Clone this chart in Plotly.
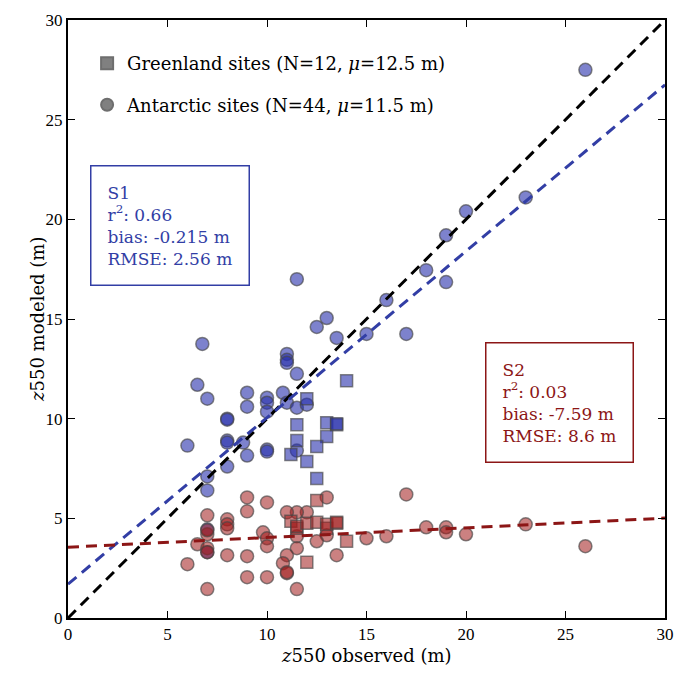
import plotly.graph_objects as go

# ---------------- data ----------------
# Antarctic sites, S1 model
ant_s1_obs = [26, 23, 20, 19, 19, 18, 16, 17, 15, 13.5, 13, 12.5, 11.5, 6.75, 11, 11, 11,
              11.5, 6.5, 7, 9, 9, 10, 10, 10, 10.8, 11, 11.5, 12, 8, 8, 8, 8, 8.8, 6,
              10, 10, 9, 8, 7, 7, 7, 7, 11.5]
ant_s1_mod = [27.5, 21.1, 20.4, 19.2, 16.85, 17.45, 15.95, 14.25, 14.25, 14.05, 15.05, 14.6,
              17.0, 13.75, 13.25, 12.95, 12.8, 12.25, 11.7, 11.0, 11.3, 10.6, 11.05, 10.8,
              10.35, 11.3, 10.8, 10.55, 10.7, 10.0, 9.95, 8.9, 8.8, 8.8, 8.65, 8.45, 8.35,
              8.15, 7.6, 7.1, 6.4, 4.45, 3.3, 8.4]
# Antarctic sites, S2 model
ant_s2_obs = [26, 23, 20, 19, 19, 18, 17, 16, 15, 13.5, 13, 13, 12.5, 12, 11.5, 11, 11.5,
              11.5, 11, 10.8, 11, 11, 11.5, 10, 9, 9, 7, 8, 8, 8, 9.8, 10, 10, 9, 8, 9,
              10, 7, 6, 6.5, 7, 7, 7, 7]
ant_s2_mod = [3.6, 4.7, 4.2, 4.55, 4.3, 4.55, 6.2, 4.1, 4.0, 3.15, 6.05, 4.15, 3.85, 5.3,
              5.3, 5.3, 4.1, 3.5, 3.15, 2.75, 2.25, 2.3, 1.45, 5.8, 6.05, 5.35, 5.15, 4.95,
              4.7, 4.5, 4.3, 4.0, 3.6, 3.1, 3.15, 2.05, 2.05, 1.45, 2.7, 3.7, 4.2, 3.5, 3.3, 4.4]
# Greenland sites
grl_obs = [14, 12, 11.5, 13, 13.5, 13.5, 13, 11.5, 12.5, 11.2, 12, 12.5]
grl_s1_mod = [11.9, 11.0, 9.7, 9.8, 9.7, 9.75, 9.1, 8.9, 8.6, 8.2, 7.85, 7.0]
grl_s2_obs = [12.5, 11.2, 11.5, 11.5, 12, 12.5, 13, 13, 13.5, 13.5, 14, 12]
grl_s2_mod = [5.9, 4.85, 4.5, 4.6, 4.75, 4.8, 4.5, 4.7, 4.75, 4.8, 3.85, 2.8]

# regression lines (intercept, slope)
s1_fit = (1.7, 0.835)
s2_fit = (3.55, 0.0487)
line_x = [0, 30]

legend_labels = ["Greenland sites (N=12, <i>μ</i>=12.5 m)",
                 "Antarctic sites (N=44, <i>μ</i>=11.5 m)"]
s1_text = "S1<br>r<sup>2</sup>: 0.66<br>bias: -0.215 m<br>RMSE: 2.56 m"
s2_text = "S2<br>r<sup>2</sup>: 0.03<br>bias: -7.59 m<br>RMSE: 8.6 m"
x_title = "<i>z</i>550 observed (m)"
y_title = "<i>z</i>550 modeled (m)"
ticks = [0, 5, 10, 15, 20, 25, 30]

# ---------------- styles ----------------
BLUE = "rgb(50,62,165)"
RED = "rgb(140,22,22)"
FILL_BLUE = "rgba(38,47,172,0.6)"
FILL_RED = "rgba(160,25,25,0.55)"
EDGE = dict(color="rgba(70,70,70,0.65)", width=1.5)
FONT = "DejaVu Serif, Liberation Serif, serif"
TICKFONT = "Liberation Serif, DejaVu Serif, serif"
DASH = "11px,7px"

fig = go.Figure()

def pts(x, y, fill, symbol, size):
    fig.add_trace(go.Scatter(x=x, y=y, mode="markers", showlegend=False, hoverinfo="skip",
                             marker=dict(color=fill, symbol=symbol, size=size, line=EDGE)))

pts(ant_s1_obs, ant_s1_mod, FILL_BLUE, "circle", 13)
pts(grl_obs, grl_s1_mod, FILL_BLUE, "square", 12)
pts(ant_s2_obs, ant_s2_mod, FILL_RED, "circle", 13)
pts(grl_s2_obs, grl_s2_mod, FILL_RED, "square", 12)

# lines
fig.add_trace(go.Scatter(x=line_x, y=line_x, mode="lines", showlegend=False,
                         line=dict(color="black", width=3, dash=DASH)))
fig.add_trace(go.Scatter(x=line_x, y=[s1_fit[0] + s1_fit[1] * v for v in line_x], mode="lines",
                         showlegend=False, line=dict(color=BLUE, width=3, dash=DASH)))
fig.add_trace(go.Scatter(x=line_x, y=[s2_fit[0] + s2_fit[1] * v for v in line_x], mode="lines",
                         showlegend=False, line=dict(color=RED, width=3, dash=DASH)))

# legend entries (gray)
for i, (lab, sym) in enumerate(zip(legend_labels, ["square", "circle"])):
    fig.add_trace(go.Scatter(x=[None], y=[None], mode="markers", name=lab, legendgroup=str(i),
                             marker=dict(color="rgb(128,128,128)", symbol=sym, size=13,
                                         line=dict(color="rgb(110,110,110)", width=1))))

fig.add_annotation(x=1.1, y=22.75, xref="x", yref="y", xanchor="left", yanchor="top",
                   text=s1_text, showarrow=False, align="left",
                   font=dict(family=FONT, size=17, color=BLUE),
                   bordercolor=BLUE, borderwidth=1.5, borderpad=16, bgcolor="white")
fig.add_annotation(x=20.95, y=13.85, xref="x", yref="y", xanchor="left", yanchor="top",
                   text=s2_text, showarrow=False, align="left",
                   font=dict(family=FONT, size=17, color=RED),
                   bordercolor=RED, borderwidth=1.5, borderpad=16, bgcolor="white")

# axis titles
fig.add_annotation(x=0.5, y=-0.062, xref="paper", yref="paper", xanchor="center",
                   yanchor="middle", text=x_title, showarrow=False,
                   font=dict(family=FONT, size=18, color="black"))
fig.add_annotation(x=-0.052, y=0.5, xref="paper", yref="paper", xanchor="center",
                   yanchor="middle", text=y_title, showarrow=False, textangle=-90,
                   font=dict(family=FONT, size=18, color="black"))

axis_common = dict(range=[0, 30], tickvals=ticks, ticks="inside", ticklen=7, tickwidth=1.2,
                   tickcolor="black", showline=True, linecolor="black", linewidth=2,
                   mirror="ticks", showgrid=False, zeroline=False, automargin=False,
                   ticklabeloverflow="allow",
                   tickfont=dict(family=TICKFONT, size=17, color="black"))

fig.update_layout(
    width=675, height=673,
    margin=dict(l=68, r=10, t=20, b=55),
    plot_bgcolor="white", paper_bgcolor="white",
    font=dict(family=FONT, size=17, color="black"),
    xaxis=dict(**axis_common),
    yaxis=dict(**axis_common),
    legend=dict(x=0.032, y=0.958, xanchor="left", yanchor="top", bgcolor="rgba(0,0,0,0)",
                font=dict(family=FONT, size=18), tracegroupgap=15, itemsizing="constant"),
)

# remove the default page margin so the 675x673 figure fills the window exactly
fig.write_html("out.html", config={"displayModeBar": False},
               post_script="document.body.style.margin='0';document.body.style.overflow='hidden';")
